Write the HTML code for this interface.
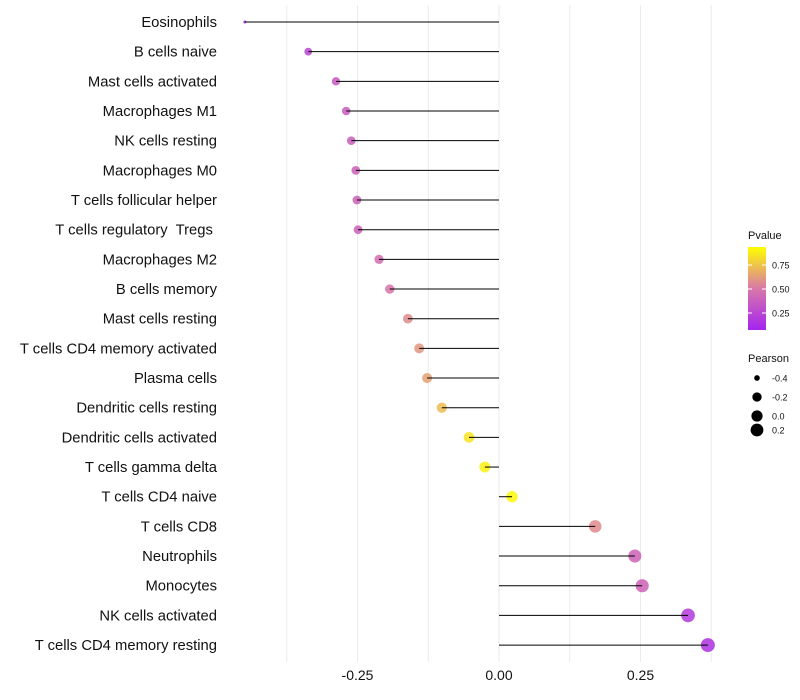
<!DOCTYPE html>
<html><head><meta charset="utf-8"><style>
body{margin:0;background:#fff;font-family:"Liberation Sans",sans-serif}
svg{display:block}
</style></head><body>
<svg id="chart" width="800" height="700"></svg>
<script>
const categories=["Eosinophils","B cells naive","Mast cells activated","Macrophages M1","NK cells resting","Macrophages M0","T cells follicular helper","T cells regulatory  Tregs ","Macrophages M2","B cells memory","Mast cells resting","T cells CD4 memory activated","Plasma cells","Dendritic cells resting","Dendritic cells activated","T cells gamma delta","T cells CD4 naive","T cells CD8","Neutrophils","Monocytes","NK cells activated","T cells CD4 memory resting"];
const pearson=[-0.449,-0.337,-0.288,-0.270,-0.261,-0.253,-0.251,-0.249,-0.212,-0.193,-0.161,-0.141,-0.127,-0.101,-0.053,-0.025,0.023,0.170,0.240,0.253,0.334,0.369];
const pvalue=[0.01,0.22,0.33,0.35,0.37,0.38,0.38,0.38,0.45,0.5,0.58,0.62,0.66,0.76,0.9,0.95,0.97,0.58,0.4,0.4,0.15,0.1];
const xTicks=[-0.25,0,0.25];
const xTickLabels=["-0.25","0.00","0.25"];
const gridVals=[-0.375,-0.25,-0.125,0,0.125,0.25,0.375];
const legendP=[0.25,0.5,0.75];
const legendS=[-0.4,-0.2,0.0,0.2];
const legendSLabels=["-0.4","-0.2","0.0","0.2"];

const NS="http://www.w3.org/2000/svg";
const svg=document.getElementById('chart');
const xs=v=>499+v*566;
const ys=i=>22+i*29.67;
const rs=v=>v< -0.337?Math.sqrt(2.25+(v+0.449)/0.112*13):Math.sqrt(31.3+47.8*v);
function lerp(a,b,t){return a.map((x,i)=>Math.round(x+(b[i]-x)*t));}
function col(p){const A=[160,32,240],M=[216,115,168],B=[255,255,0];
 const c=p<0.5?lerp(A,M,p/0.5):lerp(M,B,(p-0.5)/0.5);return `rgb(${c})`;}
function mk(tag,attrs,parent){const e=document.createElementNS(NS,tag);for(const k in attrs)e.setAttribute(k,attrs[k]);(parent||svg).appendChild(e);return e;}

gridVals.forEach(v=>{const g=mk('line',{x1:xs(v),x2:xs(v),y1:5,y2:662,stroke:'#ebebeb','stroke-width':1});

});

categories.forEach((c,i)=>{
 const y=ys(i);
 const t=mk('text',{x:217,y:y+5,'text-anchor':'end','font-size':14.8,fill:'#111','xml:space':'preserve'});t.textContent=c;
 t.style.whiteSpace='pre';
 
 
 const pt=mk('circle',{cx:xs(pearson[i]),cy:y,r:rs(pearson[i]),fill:col(pvalue[i]),'fill-opacity':0.85});
 
 
 const ln=mk('line',{x1:xs(0),x2:xs(pearson[i]),y1:y,y2:y,stroke:'#000','stroke-width':1});
 
 
});

xTicks.forEach((v,i)=>{const t=mk('text',{x:xs(v),y:680,'text-anchor':'middle','font-size':14,fill:'#111'});t.textContent=xTickLabels[i];
 
 });

// color legend
const defs=mk('defs',{});
const gr=mk('linearGradient',{id:'pg',x1:0,y1:1,x2:0,y2:0},defs);
[[0,'rgb(164,36,240)'],[0.5,'rgb(216,120,168)'],[1,'rgb(255,255,0)']].forEach(([o,c])=>mk('stop',{offset:o,'stop-color':c},gr));
let t=mk('text',{x:748,y:239,'font-size':11,fill:'#111'});t.textContent='Pvalue';


const bar=mk('rect',{x:748,y:247,width:18,height:83,fill:'url(#pg)'});


const py=p=>313-(p-0.25)*96;
legendP.forEach(p=>{mk('line',{x1:748,x2:752,y1:py(p),y2:py(p),stroke:'#fff'});mk('line',{x1:762,x2:766,y1:py(p),y2:py(p),stroke:'#fff'});
 const l=mk('text',{x:772,y:py(p)+3.5,'font-size':9,fill:'#111'});l.textContent=p.toFixed(2);
 
 });
t=mk('text',{x:748,y:362,'font-size':11,fill:'#111'});t.textContent='Pearson';


const ly=[378,397,416,430];
legendS.forEach((s,i)=>{const c=mk('circle',{cx:757,cy:ly[i],r:rs(s),fill:'#000'});
 
 
 const l=mk('text',{x:772,y:ly[i]+3.5,'font-size':9,fill:'#111'});l.textContent=legendSLabels[i];
 
 });
</script>
</body></html>
